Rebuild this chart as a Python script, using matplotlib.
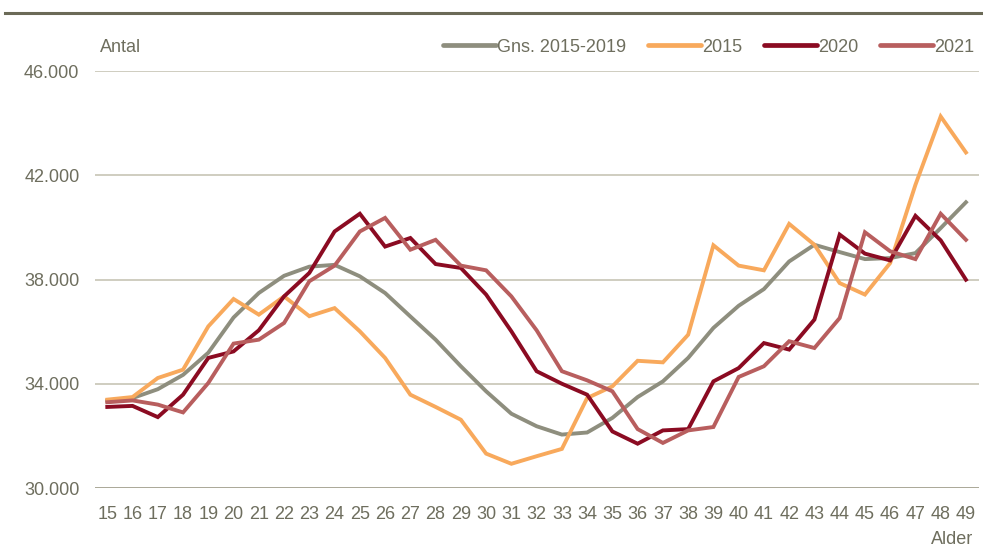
import matplotlib.pyplot as plt
from matplotlib import font_manager
from matplotlib.lines import Line2D

# Data
ages = list(range(15, 50))

gns_2015_2019 = [33350, 33460, 33800, 34350, 35200, 36550, 37490, 38150, 38500, 38570,
                 38130, 37490, 36590, 35700, 34680, 33720, 32860, 32380, 32060, 32140,
                 32700, 33500, 34100, 35000, 36150, 37000, 37640, 38700, 39340, 39060,
                 38790, 38830, 39020, 39980, 40970]
y2015 = [33400, 33500, 34230, 34550, 36210, 37260, 36660, 37360, 36600, 36910,
         36020, 35000, 33590, 33120, 32630, 31330, 30940, 31230, 31510, 33460,
         33910, 34890, 34830, 35890, 39320, 38540, 38360, 40140, 39340, 37870,
         37430, 38640, 41640, 44260, 42880]
y2020 = [33120, 33160, 32730, 33590, 35000, 35250, 36060, 37360, 38260, 39850,
         40530, 39270, 39600, 38600, 38450, 37430, 36020, 34490, 34010, 33590,
         32180, 31710, 32220, 32270, 34100, 34610, 35570, 35320, 36470, 39730,
         39000, 38740, 40450, 39510, 38000]
y2021 = [33300, 33370, 33210, 32910, 34040, 35550, 35700, 36340, 37940, 38540,
         39850, 40370, 39150, 39530, 38540, 38360, 37360, 36060, 34490, 34140,
         33720, 32270, 31740, 32220, 32350, 34270, 34680, 35640, 35380, 36530,
         39820, 39090, 38790, 40530, 39530]

series = [("Gns. 2015-2019", gns_2015_2019, "#8e8e7e"),
          ("2015", y2015, "#f8a95c"),
          ("2020", y2020, "#8b0b22"),
          ("2021", y2021, "#b85e5e")]

y_ticks = [30000, 34000, 38000, 42000, 46000]
y_tick_labels = ["30.000", "34.000", "38.000", "42.000", "46.000"]

text_color = "#6e6e5e"
grid_color = "#cbc9bb"

# the original uses a narrow sans; take the narrowest one that is installed
installed = {f.name for f in font_manager.fontManager.ttflist}
if 'Liberation Sans Narrow' in installed:
    plt.rcParams['font.family'] = ['Liberation Sans Narrow', 'DejaVu Sans']
    fs = 14
else:
    plt.rcParams['font.family'] = ['Liberation Sans', 'DejaVu Sans']
    fs = 13

fig = plt.figure(figsize=(9.83, 5.5), dpi=100)
ax = fig.add_axes([0.0963, 0.1122, 0.8992, 0.7585])

for name, vals, color in series:
    ax.plot(ages, vals, color=color, linewidth=2.8, solid_joinstyle='miter', label=name, zorder=3)

ax.set_xlim(14.5, 49.5)
ax.set_ylim(30000, 46000)
ax.set_yticks(y_ticks)
ax.set_yticklabels(y_tick_labels)
ax.set_xticks(ages)
ax.set_xticklabels([str(a) for a in ages])
ax.tick_params(axis='both', length=0, labelsize=fs, colors=text_color)
ax.tick_params(axis='x', pad=13)
ax.tick_params(axis='y', pad=11)

for yv in y_ticks:
    ax.axhline(yv, color=grid_color, linewidth=1.3, zorder=1)
ax.axhline(30000, color="#a9a796", linewidth=1.3, zorder=2)

for s in ax.spines.values():
    s.set_visible(False)

# top rule
fig.add_artist(Line2D([5 / 983, 1.0], [1 - 12.7 / 550] * 2, color="#6b6a57", linewidth=2.2))

fig.text(100 / 983, 1 - 47 / 550, "Antal", fontsize=fs, color=text_color, ha='left', va='center')
fig.text(973 / 983, 1 - 540 / 550, "Alder", fontsize=fs, color=text_color, ha='right', va='center')

leg = ax.legend(loc='center right', bbox_to_anchor=(1.0 - 4 / 884, 1.0 + 24 / 417), ncol=4,
                frameon=False, fontsize=fs, handlelength=2.9, handletextpad=0.1,
                columnspacing=1.2, borderaxespad=0, borderpad=0)
for t in leg.get_texts():
    t.set_color(text_color)
for h in leg.get_lines():
    h.set_linewidth(3.4)
    h.set_solid_capstyle('round')

fig.savefig("out.png", dpi=100, facecolor="white")
